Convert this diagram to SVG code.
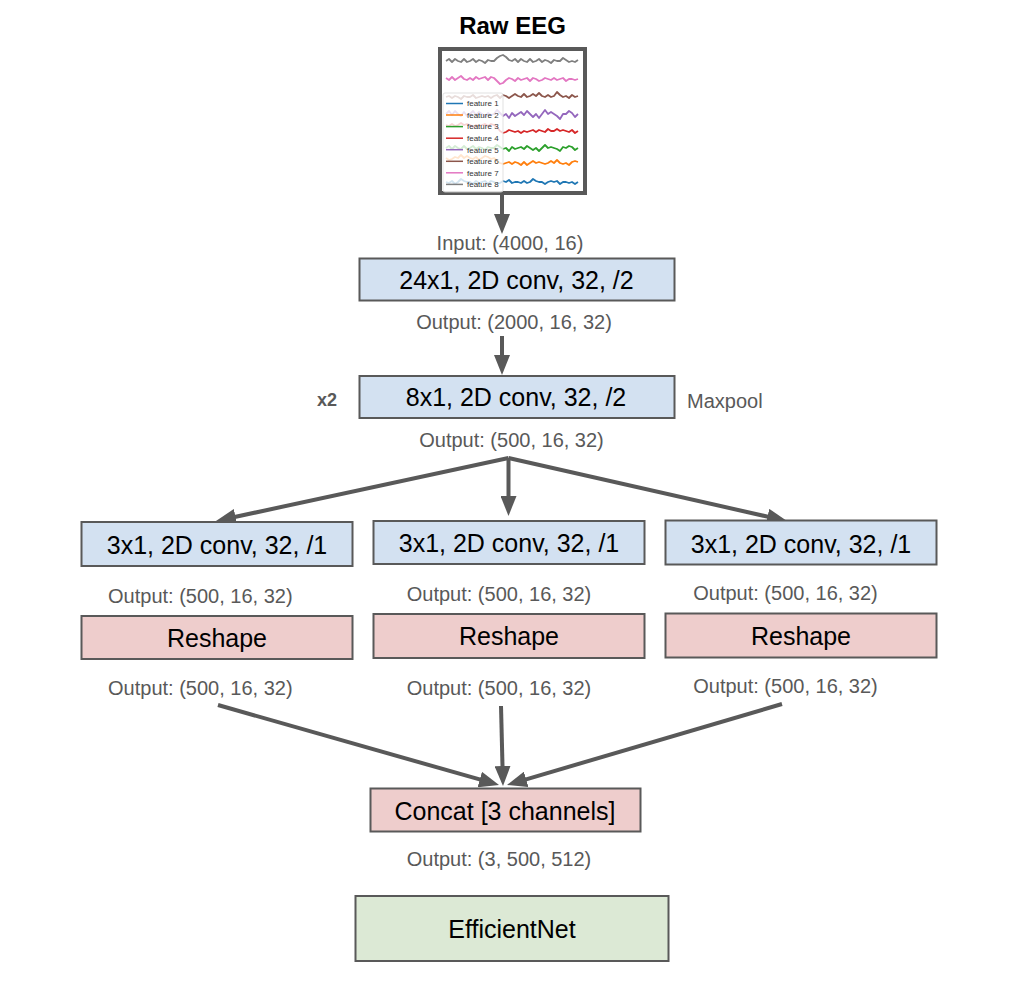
<svg xmlns="http://www.w3.org/2000/svg" width="1014" height="984" viewBox="0 0 1014 984">
<style>
  .box { stroke: #595959; stroke-width: 2; }
  .blue { fill: #d3e1f1; }
  .red { fill: #eecdcc; }
  .green { fill: #dce9d5; }
  .lbl { font-family: "Liberation Sans", Arial, sans-serif; font-size: 25px; fill: #000; text-anchor: middle; }
  .out { font-family: "Liberation Sans", Arial, sans-serif; font-size: 20px; fill: #595959; text-anchor: middle; }
  .conn { stroke: #595959; stroke-width: 4; fill: none; marker-end: url(#ah); }
  .sig { fill: none; stroke-width: 1.8; stroke-linejoin: round; }
  .leg { font-family: "Liberation Sans", Arial, sans-serif; font-size: 8px; fill: #333; }
</style>
<defs>
  <marker id="ah" viewBox="0 0 20 16" refX="8" refY="8" markerWidth="20" markerHeight="16" markerUnits="userSpaceOnUse" orient="auto">
    <path d="M0,0 L20,8 L0,16 z" fill="#595959"/>
  </marker>
</defs>
<rect width="1014" height="984" fill="#ffffff"/>

<g id="raw-eeg">
  <text x="512.5" y="34" font-family="Liberation Sans, Arial, sans-serif" font-size="24" font-weight="bold" text-anchor="middle" fill="#000">Raw EEG</text>
  <rect x="440" y="49" width="145" height="144" fill="#ffffff" stroke="#595959" stroke-width="4"/>
  <path class="sig" stroke="#7f7f7f" d="M446,61 l3,-2 3,3 3,-3 3,2 3,1 3,-3 3,3 3,-1 3,-2 3,3 3,-2 3,1 3,2 3,-3 3,1 3,0 3,-3 3,-2 3,-1 3,2 3,3 3,1 3,-2 3,3 3,-3 3,2 3,1 3,-3 3,3 3,-1 3,-2 3,3 3,-2 3,1 3,2 3,-3 3,1 3,0 3,-3 3,2 3,2 3,-1 3,1 3,-2"/>
  <path class="sig" stroke="#e377c2" d="M446,78 l3,2 3,-3 3,3 3,-2 3,-2 3,3 3,1 3,-2 3,2 3,-3 3,2 3,-1 3,-1 3,3 3,-3 3,1 3,3 3,3 3,-1 3,-3 3,-2 3,1 3,2 3,-3 3,2 3,-1 3,-1 3,3 3,-3 3,1 3,2 3,-1 3,-2 3,1 3,1 3,-2 3,2 3,-1 3,-1 3,3 3,-2 3,0 3,1 3,-1"/>
  <path class="sig" stroke="#8c564b" d="M446,97 l3,-1 3,2 3,-2 3,1 3,2 3,-3 3,1 3,0 3,-2 3,3 3,-1 3,-1 3,1 3,-1 3,2 3,-2 3,-1 3,3 3,-3 3,1 3,2 3,-2 3,-2 3,2 3,1 3,-3 3,3 3,-1 3,-2 3,2 3,-3 3,3 3,1 3,-2 3,2 3,-1 3,-4 3,3 3,2 3,-1 3,2 3,-3 3,2 3,-1"/>
  <path class="sig" stroke="#9467bd" d="M446,114 l3,-3 3,4 3,-4 3,3 3,2 3,-4 3,4 3,-2 3,-3 3,4 3,-3 3,2 3,3 3,-4 3,2 3,-1 3,-4 3,3 3,3 3,-2 3,4 3,-5 3,3 3,-2 3,-2 3,3 3,-4 3,3 3,3 3,-3 3,4 3,-4 3,-4 3,4 3,-2 3,2 3,2 3,3 3,-5 3,0 3,-3 3,2 3,4 3,-3"/>
  <path class="sig" stroke="#d62728" d="M446,125 l3,1 3,-2 3,2 3,-1 3,-2 3,2 3,-1 3,1 3,2 3,-2 3,1 3,-1 3,-1 3,2 3,-2 3,1 3,2 3,4 3,2 3,-1 3,-2 3,1 3,1 3,-1 3,2 3,-2 3,1 3,-1 3,-1 3,2 3,-2 3,1 3,1 3,-3 3,2 3,0 3,-2 3,2 3,-1 3,1 3,1 3,-2 3,3 3,-2"/>
  <path class="sig" stroke="#2ca02c" d="M446,148 l3,-2 3,3 3,-3 3,2 3,1 3,-3 3,3 3,-1 3,-2 3,3 3,-2 3,1 3,2 3,-3 3,1 3,0 3,-3 3,2 3,2 3,-1 3,3 3,-4 3,2 3,-1 3,-1 3,2 3,-3 3,2 3,2 3,-2 3,3 3,-3 3,-3 3,3 3,-1 3,1 3,1 3,2 3,-4 3,1 3,-2 3,1 3,3 3,-2"/>
  <path class="sig" stroke="#ff7f0e" d="M446,158 l3,2 3,-1 3,-2 3,1 3,-3 3,3 3,-2 3,2 3,1 3,-2 3,3 3,-2 3,-2 3,1 3,2 3,-1 3,3 3,2 3,1 3,-1 3,-1 3,2 3,-2 3,1 3,2 3,-3 3,3 3,-2 3,-2 3,2 3,-1 3,1 3,1 3,-1 3,-2 3,2 3,-3 3,3 3,1 3,-1 3,2 3,-3 3,-1 3,1"/>
  <path class="sig" stroke="#1f77b4" d="M446,182 l3,1 3,-2 3,3 3,-2 3,-3 3,2 3,1 3,0 3,2 3,-3 3,2 3,-1 3,-1 3,3 3,-3 3,1 3,2 3,-1 3,-2 3,1 3,-2 3,3 3,-1 3,0 3,1 3,-2 3,2 3,-1 3,-3 3,2 3,1 3,0 3,2 3,-2 3,-1 3,1 3,-1 3,3 3,-2 3,0 3,1 3,-1 3,2 3,-2"/>
  <rect x="443" y="93" width="60" height="99" rx="2" fill="#ffffff" fill-opacity="0.8" stroke="#d9d9d9" stroke-width="0.8"/>
  <g stroke-width="1.5">
    <line x1="446" y1="103.5" x2="463" y2="103.5" stroke="#1f77b4"/>
    <line x1="446" y1="115" x2="463" y2="115" stroke="#ff7f0e"/>
    <line x1="446" y1="126.6" x2="463" y2="126.6" stroke="#2ca02c"/>
    <line x1="446" y1="138.2" x2="463" y2="138.2" stroke="#d62728"/>
    <line x1="446" y1="149.7" x2="463" y2="149.7" stroke="#9467bd"/>
    <line x1="446" y1="161.3" x2="463" y2="161.3" stroke="#8c564b"/>
    <line x1="446" y1="172.8" x2="463" y2="172.8" stroke="#e377c2"/>
    <line x1="446" y1="184.4" x2="463" y2="184.4" stroke="#7f7f7f"/>
  </g>
  <text class="leg" x="467" y="106.3">feature 1</text>
  <text class="leg" x="467" y="117.8">feature 2</text>
  <text class="leg" x="467" y="129.4">feature 3</text>
  <text class="leg" x="467" y="141">feature 4</text>
  <text class="leg" x="467" y="152.5">feature 5</text>
  <text class="leg" x="467" y="164.1">feature 6</text>
  <text class="leg" x="467" y="175.6">feature 7</text>
  <text class="leg" x="467" y="187.2">feature 8</text>
</g>

<g id="connectors">
  <line class="conn" x1="502" y1="195" x2="502" y2="222"/>
  <line class="conn" x1="502" y1="336" x2="502" y2="363"/>
  <line class="conn" x1="508.5" y1="458" x2="227.7" y2="518.5"/>
  <line class="conn" x1="508.5" y1="458" x2="508.5" y2="504"/>
  <line class="conn" x1="508.5" y1="458" x2="775.3" y2="518.4"/>
  <line class="conn" x1="218" y1="705" x2="487.5" y2="781.7"/>
  <line class="conn" x1="501" y1="706" x2="502.7" y2="774"/>
  <line class="conn" x1="782" y1="704" x2="518.5" y2="781.6"/>
</g>

<g id="input-label">
  <text class="out" x="510" y="250">Input: (4000, 16)</text>
</g>

<g id="conv1">
  <rect class="box blue" x="359.5" y="258.5" width="315" height="42"/>
  <text class="lbl" x="516.5" y="289">24x1, 2D conv, 32, /2</text>
  <text class="out" x="514" y="329">Output: (2000, 16, 32)</text>
</g>

<g id="conv2">
  <rect class="box blue" x="359.5" y="376" width="315" height="42"/>
  <text class="lbl" x="516" y="406">8x1, 2D conv, 32, /2</text>
  <text x="317" y="406" font-family="Liberation Sans, Arial, sans-serif" font-size="18" font-weight="bold" fill="#595959">x2</text>
  <text x="687" y="408" font-family="Liberation Sans, Arial, sans-serif" font-size="20" fill="#595959">Maxpool</text>
  <text class="out" x="511.5" y="447">Output: (500, 16, 32)</text>
</g>

<g id="conv3-left">
  <rect class="box blue" x="81.5" y="522" width="271" height="44"/>
  <text class="lbl" x="217" y="554">3x1, 2D conv, 32, /1</text>
  <text class="out" x="200.3" y="603">Output: (500, 16, 32)</text>
</g>
<g id="conv3-mid">
  <rect class="box blue" x="373.5" y="521" width="271" height="43"/>
  <text class="lbl" x="509" y="552">3x1, 2D conv, 32, /1</text>
  <text class="out" x="499" y="601">Output: (500, 16, 32)</text>
</g>
<g id="conv3-right">
  <rect class="box blue" x="665.5" y="520.5" width="271" height="44"/>
  <text class="lbl" x="801" y="553">3x1, 2D conv, 32, /1</text>
  <text class="out" x="785.5" y="600">Output: (500, 16, 32)</text>
</g>

<g id="reshape-left">
  <rect class="box red" x="81.5" y="616" width="271" height="43"/>
  <text class="lbl" x="217" y="647">Reshape</text>
  <text class="out" x="200.3" y="695">Output: (500, 16, 32)</text>
</g>
<g id="reshape-mid">
  <rect class="box red" x="373.5" y="614" width="271" height="44"/>
  <text class="lbl" x="509" y="645">Reshape</text>
  <text class="out" x="499" y="695">Output: (500, 16, 32)</text>
</g>
<g id="reshape-right">
  <rect class="box red" x="665.5" y="613.5" width="271" height="44"/>
  <text class="lbl" x="801" y="645">Reshape</text>
  <text class="out" x="785.5" y="693">Output: (500, 16, 32)</text>
</g>

<g id="concat">
  <rect class="box red" x="370.5" y="788.5" width="270" height="43"/>
  <text class="lbl" x="505" y="820">Concat [3 channels]</text>
  <text class="out" x="499" y="866">Output: (3, 500, 512)</text>
</g>

<g id="efficientnet">
  <rect class="box green" x="355.5" y="896" width="313" height="65"/>
  <text class="lbl" x="512" y="938">EfficientNet</text>
</g>
</svg>
